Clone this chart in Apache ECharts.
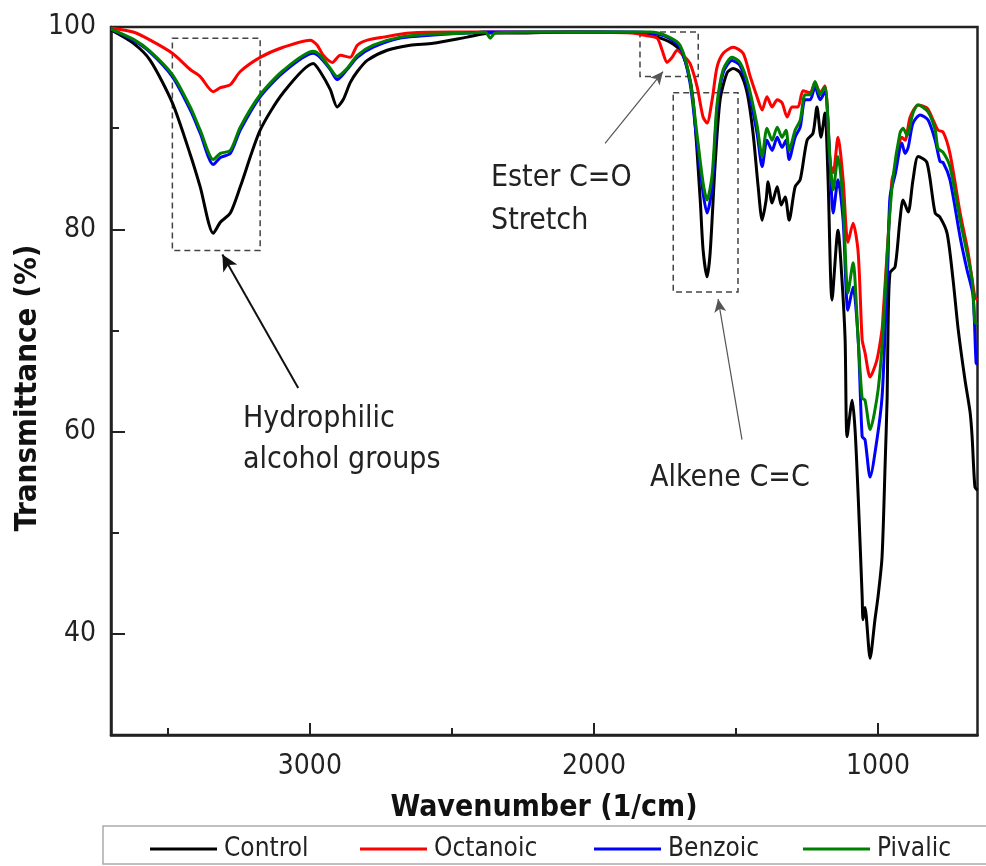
<!DOCTYPE html>
<html><head><meta charset="utf-8">
<script src="https://cdn.jsdelivr.net/npm/echarts@6/dist/echarts.min.js"></script>
<style>html,body{margin:0;padding:0;background:#fff}#c{width:986px;height:866px}</style>
</head><body><div id="c"></div>
<script>
const FONT = '"DejaVu Sans Condensed", "DejaVu Sans", sans-serif';
const seriesNames = ['Control', 'Octanoic', 'Benzoic', 'Pivalic'];
const seriesColors = ['#000000', '#ff0000', '#0000ff', '#008000'];
const xMajorTicks = [1000, 2000, 3000];
const xMinorTicks = [1500, 2500, 3500];
const yMajorTicks = [40, 60, 80, 100];
const yMinorTicks = [50, 70, 90];

const wnControl = [3700,3622,3562,3484,3421,3386,3340,3315,3280,3245,3175,3094,2988,2964,2928,2904,2883,2858,2833,2798,2728,2647,2566,2446,2365,2270,2094,1978,1838,1778,1732,1697,1672,1651,1626,1616,1602,1591,1574,1556,1531,1510,1486,1461,1440,1422,1408,1394,1387,1373,1355,1341,1327,1313,1292,1274,1250,1229,1215,1201,1187,1176,1162,1141,1127,1116,1109,1091,1081,1070,1056,1053,1046,1028,1011,1000,986,975,968,965,958,940,923,912,894,877,859,828,799,782,757,736,718,694,676,669,659,650];
const tControl = [99.7,98.4,96.7,92.5,87.4,84.2,79.6,80.7,81.6,84.2,89.8,93.5,96.4,95.6,93.8,92.1,92.8,94.5,95.6,96.7,97.7,98.2,98.4,99.0,99.4,99.4,99.5,99.5,99.4,99.0,98.5,97.7,96.0,92.8,82.9,78.0,75.3,77.7,86.2,92.8,95.5,95.9,95.5,93.5,89.5,84.2,80.9,82.9,84.7,82.6,84.2,82.4,83.2,80.9,84.2,84.9,88.8,89.5,92.1,89.1,91.5,84.9,73.0,79.9,75.0,69.1,59.5,63.1,60.2,53.6,43.7,41.4,42.6,37.6,41.4,43.7,47.6,56.9,63.4,70.1,75.7,76.3,80.9,82.9,81.7,84.9,87.2,86.6,81.6,81.2,79.6,75.0,70.1,65.1,61.9,59.5,54.5,54.2];

const wnOctanoic = [3700,3622,3562,3484,3421,3386,3340,3315,3280,3245,3175,3094,2999,2974,2953,2921,2893,2858,2833,2798,2742,2647,2506,2300,2100,1862,1827,1778,1760,1743,1725,1707,1686,1662,1637,1616,1602,1584,1567,1545,1510,1475,1450,1426,1408,1391,1373,1355,1338,1320,1303,1282,1264,1239,1222,1204,1187,1169,1158,1141,1123,1106,1088,1070,1056,1046,1028,1004,986,982,965,951,940,916,905,887,859,828,806,789,771,747,711,683,659,650];
const tOctanoic = [99.9,99.5,98.7,97.4,95.8,95.1,93.6,94.0,94.3,95.6,97.0,98.0,98.7,98.2,97.2,96.5,97.2,97.0,98.2,98.7,99.0,99.4,99.5,99.5,99.5,99.4,99.2,98.9,97.7,96.5,97.0,97.7,97.2,96.4,94.1,91.1,90.5,92.8,96.0,97.4,98.0,97.4,95.1,93.1,91.8,93.1,92.1,92.8,92.5,91.1,92.1,92.1,93.7,93.5,94.5,93.5,94.2,86.6,85.6,89.1,84.9,78.7,80.6,77.7,69.1,67.8,65.4,67.1,70.1,71.7,79.0,84.9,85.9,89.1,88.8,91.1,92.3,92.0,90.8,89.8,89.6,87.5,81.6,77.7,73.3,73.0];

const wnBenzoic = [3700,3622,3562,3484,3421,3386,3340,3315,3280,3245,3175,3094,2988,2964,2928,2904,2869,2833,2777,2682,2566,2446,2376,2214,1862,1802,1743,1697,1662,1637,1616,1602,1584,1567,1545,1514,1486,1457,1426,1408,1391,1373,1355,1338,1324,1313,1292,1274,1257,1239,1222,1204,1187,1169,1158,1141,1123,1106,1088,1070,1056,1046,1028,1004,986,975,965,958,940,916,905,894,877,852,824,799,782,771,747,711,687,666,655,650];
const tBenzoic = [99.8,98.7,97.5,95.1,91.8,89.5,86.4,87.1,87.5,89.8,93.1,95.5,97.4,97.0,95.8,94.8,95.8,97.0,98.0,98.9,99.2,99.4,99.5,99.5,99.5,99.4,99.0,98.0,94.5,88.5,83.6,81.6,84.2,91.8,95.5,96.7,96.2,93.8,89.5,86.2,88.8,87.8,89.1,88.1,88.8,86.9,89.1,90.1,92.8,92.8,94.1,92.8,93.6,86.6,81.6,84.9,80.9,72.0,74.3,69.1,59.5,59.2,55.5,59.2,63.4,70.1,77.0,83.2,85.4,88.5,87.5,88.1,90.5,91.3,90.8,88.8,86.7,86.6,84.9,79.2,76.0,73.5,66.8,66.6];

const wnPivalic = [3700,3622,3562,3484,3421,3386,3340,3315,3280,3245,3175,3094,2988,2964,2928,2904,2869,2833,2777,2682,2566,2446,2383,2365,2348,2214,1862,1802,1743,1697,1662,1637,1616,1602,1584,1567,1545,1514,1486,1457,1426,1408,1391,1373,1355,1338,1324,1313,1292,1274,1257,1239,1222,1204,1187,1169,1158,1141,1123,1106,1088,1070,1056,1046,1028,1000,982,965,947,923,912,898,877,859,824,799,789,771,747,711,669,659,650];
const tPivalic = [99.8,98.8,97.6,95.3,92.1,89.8,86.9,87.5,87.8,90.1,93.3,95.7,97.6,97.2,95.9,95.1,95.9,97.2,98.2,99.0,99.3,99.4,99.5,98.9,99.4,99.5,99.5,99.5,99.1,98.2,94.8,89.3,84.6,82.9,85.4,92.3,95.8,97.0,96.5,94.3,90.3,87.2,90.0,88.8,90.1,89.1,89.8,87.8,89.8,90.8,93.3,93.3,94.6,93.3,94.1,86.9,83.9,87.2,82.6,73.7,76.7,69.1,63.3,63.1,60.2,64.1,70.1,79.0,85.2,89.5,90.0,89.3,91.5,92.3,91.6,89.8,88.0,87.6,86.2,80.9,75.0,70.8,70.6];

// annotation boxes (data coords: [wn1, T1, wn2, T2]) and arrows ([fromWn, fromT, toWn, toT])
const boxHydro = [3484, 98.9, 3175, 77.9];
const boxEster = [1838, 99.5, 1633, 95.1];
const boxAlkene = [1721, 93.5, 1493, 73.8];
const arrowHydro = [3041, 64.3, 3308, 77.5];
const arrowEster = [1961, 88.5, 1757, 95.6];
const arrowAlkene = [1479, 59.2, 1563, 73.1];

function zip(a, b) { return a.map((v, i) => [v, b[i]]); }
const allWn = [wnControl, wnOctanoic, wnBenzoic, wnPivalic];
const allT = [tControl, tOctanoic, tBenzoic, tPivalic];

const boxStyle = { color: 'rgba(0,0,0,0)', borderColor: '#444', borderWidth: 1.5, borderType: [6, 4] };
function box(b) { return [{ coord: [b[0], b[1]], itemStyle: boxStyle }, { coord: [b[2], b[3]] }]; }
function arrow(a, w, col, size) {
  return [{ coord: [a[0], a[1]], symbol: 'none', lineStyle: { color: col, width: w, type: 'solid' } },
          { coord: [a[2], a[3]], symbol: 'arrow', symbolSize: size }];
}

const series = seriesNames.map((n, i) => ({
  name: n, type: 'line', data: zip(allWn[i], allT[i]), showSymbol: false, symbol: 'none',
  smooth: 0.25, lineStyle: { color: seriesColors[i], width: 3 }, itemStyle: { color: seriesColors[i] },
  xAxisIndex: 0, yAxisIndex: 0, z: 3 + i, animation: false
}));
series[0].markArea = { silent: true, itemStyle: boxStyle, data: [box(boxHydro), box(boxEster), box(boxAlkene)] };
series[0].markLine = { silent: true, symbol: ['none', 'arrow'], label: { show: false },
  data: [arrow(arrowHydro, 2, '#111', [12, 16]), arrow(arrowEster, 1.2, '#555', [9, 13]), arrow(arrowAlkene, 1.2, '#555', [9, 13])] };

const chart = echarts.init(document.getElementById('c'), null, { renderer: 'canvas' });
const axisLineStyle = { color: '#222', width: 2.5 };
const legendTop = 836;
const legendLefts = [150, 360, 594, 803];
chart.setOption({
  animation: false,
  grid: { left: 111, right: 8.5, top: 27, bottom: 131, show: true, borderColor: '#222', borderWidth: 2.5 },
  xAxis: [
    { type: 'value', min: 650, max: 3700, inverse: true, position: 'bottom',
      axisLine: { lineStyle: axisLineStyle }, splitLine: { show: false },
      axisTick: { inside: true, length: 12, customValues: xMajorTicks, lineStyle: { color: '#222', width: 2 } },
      axisLabel: { customValues: xMajorTicks, formatter: v => String(v), fontFamily: FONT, fontSize: 28, color: '#222', margin: 18 } },
    { type: 'value', min: 650, max: 3700, inverse: true, position: 'bottom',
      axisLine: { show: false }, splitLine: { show: false },
      axisTick: { inside: true, length: 7, customValues: xMinorTicks, lineStyle: { color: '#222', width: 2 } },
      axisLabel: { show: false } }
  ],
  yAxis: [
    { type: 'value', min: 30, max: 100, position: 'left',
      axisLine: { show: true, lineStyle: axisLineStyle }, splitLine: { show: false },
      axisTick: { show: true, inside: true, length: 14, customValues: yMajorTicks, lineStyle: { color: '#222', width: 2 } },
      axisLabel: { customValues: yMajorTicks, formatter: v => String(v), fontFamily: FONT, fontSize: 28, color: '#222', margin: 15 } },
    { type: 'value', min: 30, max: 100, position: 'left',
      axisLine: { show: false }, splitLine: { show: false },
      axisTick: { show: true, inside: true, length: 8, customValues: yMinorTicks, lineStyle: { color: '#222', width: 2 } },
      axisLabel: { show: false } }
  ],
  legend: seriesNames.map((n, i) => ({
    data: [{ name: n, icon: 'rect' }], left: legendLefts[i], top: legendTop, itemWidth: 67, itemHeight: 3, itemGap: 0, padding: 0,
    textStyle: { fontFamily: FONT, fontSize: 26, color: '#222', padding: [0, 0, 0, 2] }
  })),
  series: series,
  graphic: [
    { type: 'rect', shape: { x: 103, y: 826, width: 890, height: 38 }, style: { fill: 'none', stroke: '#aaa', lineWidth: 1.5 }, silent: true },
    { type: 'text', x: 544, y: 808, style: { text: 'Wavenumber (1/cm)', font: 'bold 30px ' + FONT, fill: '#111', textAlign: 'center', textVerticalAlign: 'middle' } },
    { type: 'text', x: 28, y: 388, rotation: Math.PI / 2, style: { text: 'Transmittance (%)', font: 'bold 31px ' + FONT, fill: '#111', textAlign: 'center', textVerticalAlign: 'middle' } },
    { type: 'text', x: 243, y: 419, style: { text: 'Hydrophilic', font: '30px ' + FONT, fill: '#222', textAlign: 'left', textVerticalAlign: 'middle' } },
    { type: 'text', x: 243, y: 460, style: { text: 'alcohol groups', font: '30px ' + FONT, fill: '#222', textAlign: 'left', textVerticalAlign: 'middle' } },
    { type: 'text', x: 491, y: 178, style: { text: 'Ester C=O', font: '30px ' + FONT, fill: '#222', textAlign: 'left', textVerticalAlign: 'middle' } },
    { type: 'text', x: 491, y: 221, style: { text: 'Stretch', font: '30px ' + FONT, fill: '#222', textAlign: 'left', textVerticalAlign: 'middle' } },
    { type: 'text', x: 650, y: 478, style: { text: 'Alkene C=C', font: '30px ' + FONT, fill: '#222', textAlign: 'left', textVerticalAlign: 'middle' } }
  ]
});
</script></body></html>
